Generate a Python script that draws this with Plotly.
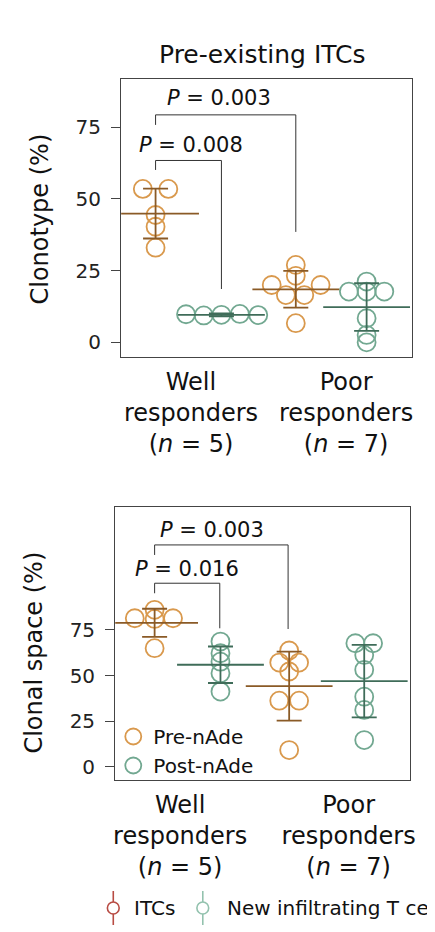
import plotly.graph_objects as go

# (Pre-existing ITCs)
groups = ["Well responders", "Poor responders"]
group_n = [5, 7]

clono_pre_well = [53.5, 53.5, 44.4, 40.3, 33.0]
clono_post_well = [9.8, 9.4, 9.6, 9.9, 9.5]
clono_pre_poor = [27.0, 23.2, 20.0, 20.0, 16.5, 16.5, 6.7]
clono_post_poor = [21.2, 17.7, 17.7, 17.7, 8.4, 2.6, 0.0]
clono_mean = [44.9, 9.6, 18.5, 12.3]
clono_sd = [8.7, 0.5, 6.4, 8.3]
clono_p = ["0.008", "0.003"]

space_pre_well = [86.0, 81.4, 81.0, 81.4, 65.0]
space_post_well = [68.6, 62.2, 57.6, 51.2, 41.2]
space_pre_poor = [63.7, 57.1, 57.1, 52.2, 36.2, 36.2, 9.1]
space_post_poor = [67.7, 67.7, 61.3, 53.1, 38.4, 31.1, 14.6]
space_mean = [78.9, 55.9, 44.2, 46.9]
space_sd = [7.7, 10.0, 18.9, 19.9]
space_p = ["0.016", "0.003"]

ORANGE = "#d9994d"
ORANGE_DARK = "#8a5a26"
GREEN = "#72a891"
GREEN_DARK = "#3f6c59"
FONT = "DejaVu Sans"

# layout only: group centres, swarm offsets, label positions (axis units)
top_pos = [0, 0.93, 1.98, 2.98]
bot_pos = [0, 0.93, 1.90, 2.96]
top_offsets = [
    [-0.18, 0.18, 0, 0, 0],
    [-0.5, -0.25, 0, 0.26, 0.52],
    [0, 0, -0.34, 0.35, -0.14, 0.12, 0],
    [0, -0.25, 0, 0.25, 0, 0, 0],
]
bot_offsets = [
    [0, -0.28, 0, 0.26, 0],
    [0, 0, 0, 0, 0],
    [0, -0.14, 0.14, 0, -0.14, 0.14, 0],
    [-0.125, 0.125, 0, 0, 0, 0, 0],
]
top_label_pos = [0.5, 2.69]
bot_label_pos = [0.36, 2.74]

# the page body adds an 8px margin, so the figure is shifted by that much
OFF = 8
W, H = 435 - OFF, 932 - OFF


def px(x):
    return (x - OFF) / W


def py(y):
    return 1 - (y - OFF) / H


def swarm_x(pos, offsets):
    return [pos + o for o in offsets]


fig = go.Figure()


def add_panel(values, means, sds, pos, offsets, xa, ya, legend):
    colors = [ORANGE, GREEN, ORANGE, GREEN]
    dark = [ORANGE_DARK, GREEN_DARK, ORANGE_DARK, GREEN_DARK]
    names = ["Pre-nAde", "Post-nAde", "Pre-nAde", "Post-nAde"]
    for i, vals in enumerate(values):
        fig.add_trace(
            go.Scatter(
                x=swarm_x(pos[i], offsets[i]),
                y=vals,
                mode="markers",
                xaxis=xa,
                yaxis=ya,
                name=names[i],
                legendgroup=names[i],
                showlegend=legend and i < 2,
                cliponaxis=False,
                marker=dict(
                    symbol="circle-open",
                    size=18,
                    color=colors[i],
                    line=dict(width=1.8, color=colors[i]),
                ),
            )
        )
    for i in range(4):
        fig.add_trace(
            go.Scatter(
                x=[pos[i]],
                y=[means[i]],
                mode="markers",
                xaxis=xa,
                yaxis=ya,
                showlegend=False,
                marker=dict(
                    symbol="line-ew-open",
                    size=62,
                    color=dark[i],
                    line=dict(width=1.8, color=dark[i]),
                ),
                error_y=dict(
                    type="data",
                    array=[sds[i]],
                    color=dark[i],
                    thickness=1.8,
                    width=12.5,
                ),
            )
        )


add_panel(
    [clono_pre_well, clono_post_well, clono_pre_poor, clono_post_poor],
    clono_mean, clono_sd, top_pos, top_offsets, "x", "y", False,
)
add_panel(
    [space_pre_well, space_post_well, space_pre_poor, space_post_poor],
    space_mean, space_sd, bot_pos, bot_offsets, "x2", "y2", True,
)

ticktext = [
    f"{g.split()[0]}<br>{g.split()[1]}<br>(<i>n</i> = {n})"
    for g, n in zip(groups, group_n)
]

xaxis_common = dict(
    showgrid=False,
    zeroline=False,
    showline=True,
    mirror=True,
    linecolor="#444",
    linewidth=1.3,
    ticks="",
    ticktext=ticktext,
    tickfont=dict(family=FONT, size=24, color="#111"),
    ticklabelstandoff=3,
)
yaxis_common = dict(
    showgrid=False,
    zeroline=False,
    showline=True,
    mirror=True,
    linecolor="#444",
    linewidth=1.3,
    ticks="outside",
    ticklen=9,
    tickwidth=1.2,
    tickcolor="#444",
    tickvals=[0, 25, 50, 75],
    tickfont=dict(family=FONT, size=20, color="#222"),
    ticklabelstandoff=6,
)

shapes = []
annotations = []


def bracket(xa, ya, x0, x1, top, left_end, right_end, label, lx, ly):
    for xs, ys in [
        ((x0, x0), (left_end, top)),
        ((x0, x1), (top, top)),
        ((x1, x1), (top, right_end)),
    ]:
        shapes.append(
            dict(
                type="line", xref=xa, yref=ya,
                x0=xs[0], x1=xs[1], y0=ys[0], y1=ys[1],
                line=dict(color="#333", width=1),
            )
        )
    annotations.append(
        dict(
            xref=xa, yref=ya, x=lx, y=ly, text=f"<i>P</i> = {label}",
            xanchor="center", yanchor="middle",
            showarrow=False, font=dict(family=FONT, size=21, color="#111"),
        )
    )


bracket("x", "y", top_pos[0], top_pos[1], 63.4, 60.1, 18.6, clono_p[0], 0.5, 68.8)
bracket("x", "y", top_pos[0], top_pos[2], 79.3, 75.8, 38.5, clono_p[1], 0.9, 85.2)
bracket("x2", "y2", bot_pos[0], bot_pos[1] - 0.01, 100.6, 95.1, 75.9, space_p[0], 0.46, 108.3)
bracket("x2", "y2", bot_pos[0], bot_pos[2] - 0.015, 121.6, 116.1, 75.5, space_p[1], 0.81, 129.8)


def label(x, y, text, size, angle=0, xanchor="center"):
    return dict(
        xref="paper", yref="paper", x=px(x), y=py(y), text=text,
        xanchor=xanchor, yanchor="middle", textangle=angle, showarrow=False,
        font=dict(family=FONT, size=size, color="#111"),
    )


annotations += [
    label(265, 54, "Pre-existing ITCs", 25),
    label(38, 219, "Clonotype (%)", 24, angle=-90),
    label(32, 653, "Clonal space (%)", 24, angle=-90),
    label(132, 908, "ITCs", 20, xanchor="left"),
    label(227, 908, "New infiltrating T cells", 20, xanchor="left"),
]

# bottom key: open circle with a vertical stroke
for cx, col in [(113, "#b84c44"), (204, "#93c2ae")]:
    shapes.append(dict(type="line", xref="paper", yref="paper",
                       x0=px(cx), x1=px(cx), y0=py(891), y1=py(925),
                       line=dict(color=col, width=1.6)))
    shapes.append(dict(type="circle", xref="paper", yref="paper",
                       x0=px(cx - 6), x1=px(cx + 6), y0=py(902), y1=py(914),
                       fillcolor="white", line=dict(color=col, width=1.6)))

fig.update_layout(
    width=W,
    height=H,
    margin=dict(l=0, r=0, t=0, b=0),
    plot_bgcolor="white",
    paper_bgcolor="white",
    xaxis=dict(xaxis_common, domain=[px(121), px(417)], range=[-0.486, 3.625],
               tickvals=top_label_pos),
    yaxis=dict(yaxis_common, domain=[py(357), py(79)], range=[-5.1, 91.8]),
    xaxis2=dict(xaxis_common, domain=[px(115), px(415)], range=[-0.556, 3.611],
                tickvals=bot_label_pos, anchor="y2"),
    yaxis2=dict(yaxis_common, domain=[py(780), py(507)], range=[-7.3, 142.4],
                anchor="x2"),
    shapes=shapes,
    annotations=annotations,
    legend=dict(
        x=px(113), y=py(717), xanchor="left", yanchor="top",
        bgcolor="rgba(0,0,0,0)", font=dict(family=FONT, size=20, color="#111"),
        tracegroupgap=0,
    ),
)

fig.write_html("out.html")
